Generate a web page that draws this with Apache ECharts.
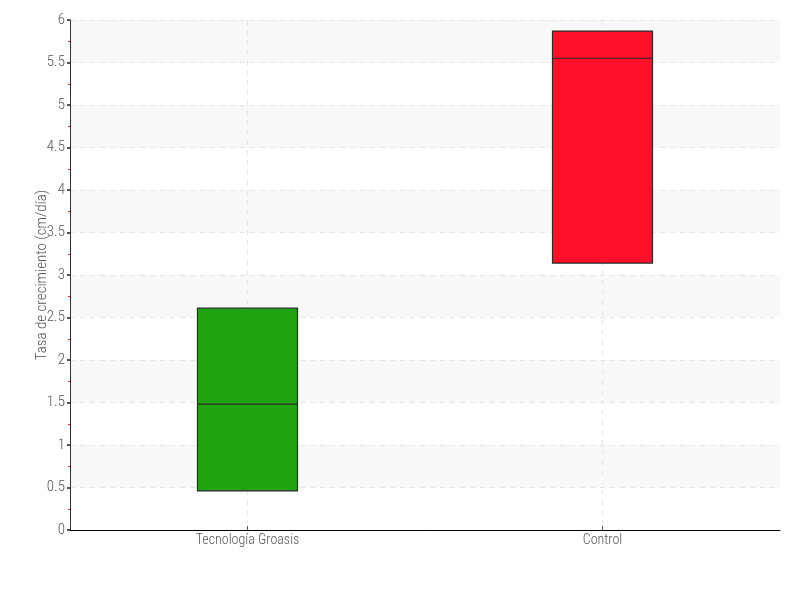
<!DOCTYPE html>
<html><head><meta charset="utf-8">
<script src="https://cdn.jsdelivr.net/npm/echarts@6/dist/echarts.min.js"></script>
<style>html,body{margin:0;padding:0;background:#fff}#c{width:800px;height:600px}</style>
</head><body><div id="c"></div>
<script>
const categories = ['Tecnología Groasis', 'Control'];
// [min, Q1, median, Q3, max]
const boxValues = [
  [0.46, 0.46, 1.48, 2.61, 2.61],
  [3.14, 3.14, 5.55, 5.87, 5.87]
];
const boxColors = ['#21a40f', '#ff1028'];
const yName = 'Tasa de crecimiento (cm/día)';

const font = '"Roboto Condensed", "Liberation Sans Narrow", Roboto, sans-serif';
const chart = echarts.init(document.getElementById('c'), null, {renderer: 'canvas'});
chart.setOption({
  animation: false,
  grid: {left: 70, right: 20, top: 20, bottom: 70},
  xAxis: {
    type: 'category',
    data: categories,
    axisLine: {lineStyle: {color: '#000', width: 1}},
    axisTick: {show: true, alignWithLabel: true, inside: true, length: 4, lineStyle: {color: '#555'}},
    axisLabel: {color: '#555', fontSize: 14, fontWeight: 300, fontFamily: font, margin: 3},
    splitLine: {show: true, alignWithLabel: true, lineStyle: {color: '#e6e6e6', type: [5, 5]}}
  },
  yAxis: {
    type: 'value', min: 0, max: 6, interval: 0.5,
    name: yName, nameLocation: 'middle', nameGap: 20, nameMoveOverlap: false,
    nameTextStyle: {color: '#555', fontSize: 15, fontWeight: 300, fontFamily: font},
    axisLine: {show: true, lineStyle: {color: '#333', width: 1}},
    axisTick: {show: true, length: 3, lineStyle: {color: '#555', width: 2}},
    minorTick: {show: true, splitNumber: 2, length: 2, lineStyle: {color: '#ff2222', width: 1}},
    axisLabel: {color: '#555', fontSize: 15, fontWeight: 300, fontFamily: font, margin: 5},
    splitLine: {show: true, lineStyle: {color: '#e6e6e6', type: [5, 5]}},
    splitArea: {show: true, areaStyle: {color: ['rgba(255,255,255,0)', '#f8f8f8']}}
  },
  series: [{
    type: 'boxplot',
    boxWidth: [100, 100],
    data: boxValues.map((v, i) => ({
      value: v,
      itemStyle: {color: boxColors[i], borderColor: '#2a2a2a', borderWidth: 1.2}
    }))
  }]
});
</script></body></html>
